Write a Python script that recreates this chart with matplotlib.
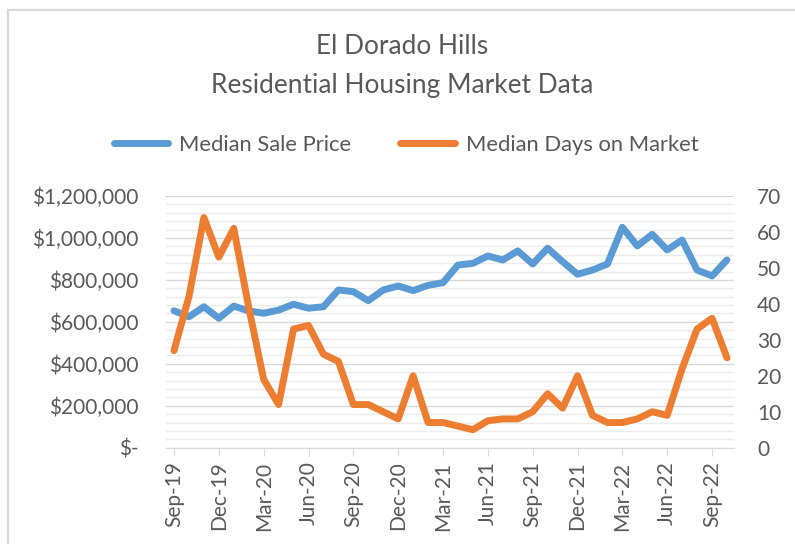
import matplotlib
matplotlib.use("Agg")
import matplotlib.pyplot as plt
from matplotlib.patches import Rectangle
from matplotlib.ticker import MultipleLocator, FuncFormatter

# monthly data, Sep-19 .. Oct-22
months = ["Sep-19", "Oct-19", "Nov-19", "Dec-19", "Jan-20", "Feb-20", "Mar-20", "Apr-20",
          "May-20", "Jun-20", "Jul-20", "Aug-20", "Sep-20", "Oct-20", "Nov-20", "Dec-20",
          "Jan-21", "Feb-21", "Mar-21", "Apr-21", "May-21", "Jun-21", "Jul-21", "Aug-21",
          "Sep-21", "Oct-21", "Nov-21", "Dec-21", "Jan-22", "Feb-22", "Mar-22", "Apr-22",
          "May-22", "Jun-22", "Jul-22", "Aug-22", "Sep-22", "Oct-22"]
sale_price = [653000, 624000, 672000, 617000, 675000, 652000, 641000, 656000, 684000, 665000,
              672000, 752000, 744000, 701000, 752000, 771000, 749000, 774000, 787000, 871000,
              879000, 914000, 895000, 938000, 876000, 951000, 887000, 827000, 847000, 876000,
              1051000, 962000, 1017000, 943000, 990000, 847000, 819000, 895000]
days_on_market = [27, 42, 64, 53, 61, 39, 19, 12, 33, 34, 26, 24, 12, 12, 10, 8, 20, 7, 7, 6,
                  5, 7.5, 8, 8, 10, 15, 11, 20, 9, 7, 7, 8, 10, 9, 22, 33, 36, 25]
tick_labels = months[::3]

BLUE = "#5B9BD5"
ORANGE = "#ED7D31"
TEXT = "#595959"
plt.rcParams["font.family"] = ["Lato", "DejaVu Sans"]

W, H = 795, 544
fig = plt.figure(figsize=(W / 100, H / 100), dpi=100)

# light chart border (top and left visible)
fig.patches.append(Rectangle((8 / W, -0.1), 1.2, (H - 10) / H + 0.1, transform=fig.transFigure,
                             fill=False, edgecolor="#d9d9d9", linewidth=1.6))

left, right, top, bottom = 166, 734, 196, 447.7
ax = fig.add_axes([left / W, (H - bottom) / H, (right - left) / W, (bottom - top) / H])
ax2 = ax.twinx()

x = list(range(len(months)))
ax.plot(x, sale_price, color=BLUE, lw=5, solid_capstyle="round", solid_joinstyle="round",
        label="Median Sale Price", zorder=3, clip_on=False)
ax2.plot(x, days_on_market, color=ORANGE, lw=5, solid_capstyle="round", solid_joinstyle="round",
         label="Median Days on Market", zorder=3, clip_on=False)

ax.set_xlim(-0.535, 37.47)
ax.set_ylim(0, 1200000)
ax2.set_ylim(0, 70)

ax.yaxis.set_major_locator(MultipleLocator(200000))
ax.yaxis.set_minor_locator(MultipleLocator(40000))
ax.grid(which="major", axis="y", color="#d9d9d9", lw=1)
ax.grid(which="minor", axis="y", color="#ececec", lw=1)
ax.set_axisbelow(True)
ax.yaxis.set_major_formatter(FuncFormatter(lambda v, p: "$-" if v == 0 else f"${v:,.0f}"))
ax2.yaxis.set_major_locator(MultipleLocator(10))

ax.set_xticks(x[::3])
ax.set_xticklabels(tick_labels, rotation=90)

for a in (ax, ax2):
    for s in a.spines.values():
        s.set_visible(False)
ax.spines["bottom"].set_visible(True)
ax.spines["bottom"].set_color("#d9d9d9")
ax.tick_params(axis="y", which="both", length=0, labelsize=15, labelcolor=TEXT, pad=20)
ax2.tick_params(axis="y", which="both", length=0, labelsize=15, labelcolor=TEXT, pad=16.5)
ax.tick_params(axis="x", length=6, color="#d9d9d9", labelsize=15, labelcolor=TEXT, pad=4)

fig.text(402 / W, 1 - 66 / H, "El Dorado Hills\nResidential Housing Market Data",
         ha="center", va="center", fontsize=18.9, color=TEXT, linespacing=1.7)

h1, l1 = ax.get_legend_handles_labels()
h2, l2 = ax2.get_legend_handles_labels()
fig.legend(h1 + h2, l1 + l2, loc="center", bbox_to_anchor=(406 / W, 1 - 145 / H), ncol=2,
           frameon=False, fontsize=15.8, labelcolor=TEXT, handlelength=2.5, handletextpad=0.5,
           columnspacing=2.2)

fig.savefig("out.png", dpi=100)
